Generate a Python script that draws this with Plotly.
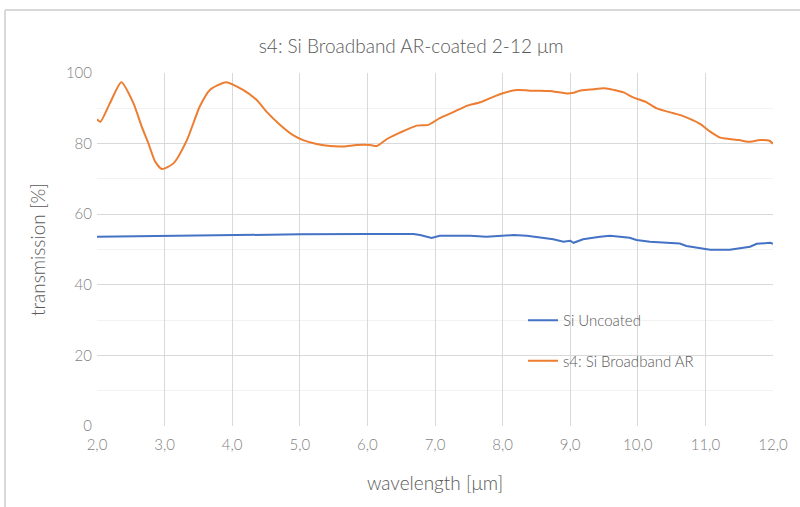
import plotly.graph_objects as go

# Data
wl_ar = [2.0, 2.05, 2.19, 2.36, 2.54, 2.66, 2.76, 2.86, 2.96, 3.13, 3.33, 3.52, 3.67, 3.91, 4.16,
         4.36, 4.51, 4.71, 4.90, 5.05, 5.25, 5.45, 5.65, 5.84, 6.04, 6.14, 6.29, 6.48, 6.73, 6.9,
         7.07, 7.27, 7.47, 7.67, 7.96, 8.21, 8.4, 8.55, 8.7, 8.95, 9.05, 9.14, 9.3, 9.51, 9.65,
         9.79, 9.93, 10.13, 10.28, 10.53, 10.67, 10.92, 11.07, 11.22, 11.36, 11.5, 11.63, 11.81,
         11.95, 12.0]
tr_ar = [86.9, 86.2, 91.4, 97.4, 91.4, 84.9, 80.1, 74.9, 72.8, 74.4, 81.0, 90.5, 95.2, 97.4, 95.2,
         92.4, 89.0, 85.3, 82.4, 81.0, 79.9, 79.3, 79.2, 79.6, 79.6, 79.3, 81.3, 83.1, 85.1, 85.3,
         87.2, 88.9, 90.7, 91.7, 94.0, 95.2, 95.0, 95.0, 94.9, 94.2, 94.4, 95.0, 95.3, 95.7, 95.2,
         94.5, 93.1, 91.7, 90.0, 88.6, 87.8, 85.6, 83.4, 81.7, 81.3, 81.0, 80.5, 81.0,
         80.8, 79.9]

wl_si = [2.0, 3.0, 4.0, 5.0, 6.0, 6.68, 6.78, 6.95, 7.07, 7.52, 7.76, 8.16, 8.36, 8.75, 8.9,
         9.0, 9.05, 9.19, 9.44, 9.59, 9.88, 9.98, 10.18, 10.62, 10.72, 11.07, 11.36, 11.66,
         11.76, 11.96, 12.0]
tr_si = [53.6, 53.9, 54.1, 54.3, 54.4, 54.4, 54.1, 53.3, 53.9, 53.9, 53.6, 54.1, 53.9, 52.9, 52.2,
         52.5, 51.9, 52.9, 53.6, 53.9, 53.3, 52.7, 52.2, 51.7, 51.0, 49.9, 49.9, 50.8,
         51.6, 51.9, 51.6]

x_ticks = [2, 3, 4, 5, 6, 7, 8, 9, 10, 11, 12]
x_ticktext = ["2,0", "3,0", "4,0", "5,0", "6,0", "7,0", "8,0", "9,0", "10,0", "11,0", "12,0"]
y_ticks = [0, 20, 40, 60, 80, 100]

FONT = "Lato Light, Lato, sans-serif"

fig = go.Figure()
fig.add_trace(go.Scatter(x=wl_si, y=tr_si, mode="lines", name="Si Uncoated",
                         line=dict(color="#4472C4", width=2), legendgroup="a"))
fig.add_trace(go.Scatter(x=wl_ar, y=tr_ar, mode="lines", name="s4: Si Broadband AR",
                         line=dict(color="#ED7D31", width=2, shape="spline", smoothing=0.6),
                         legendgroup="b"))

fig.update_layout(
    width=800, height=507,
    margin=dict(l=97, r=27, t=73, b=81),
    paper_bgcolor="white", plot_bgcolor="white",
    font=dict(family=FONT, color="#595959"),
    title=dict(text="s4: Si Broadband AR-coated 2-12 μm", x=0.514, xanchor="center",
               y=1 - 46 / 507, yanchor="middle", font=dict(size=19, color="#595959", family=FONT)),
    showlegend=True,
    legend=dict(x=(523 - 97) / 676, y=(426 - 304) / 353, xanchor="left", yanchor="top",
                bgcolor="rgba(0,0,0,0)", font=dict(size=15, color="#595959", family=FONT),
                tracegroupgap=18, itemwidth=30),
    xaxis=dict(range=[2, 12], tickvals=x_ticks, ticktext=x_ticktext,
               showgrid=True, gridcolor="#d9d9d9", gridwidth=1, zeroline=False,
               showline=False, ticks="", ticklabelstandoff=8,
               tickfont=dict(size=15, color="#7f7f7f", family=FONT),
               title=dict(text="wavelength [μm]", font=dict(size=19, color="#595959", family=FONT),
                          standoff=24)),
    yaxis=dict(range=[0, 100], tickvals=y_ticks, showgrid=True, gridcolor="#d9d9d9",
               gridwidth=1, zeroline=False, showline=False, ticks="", ticklabelstandoff=4,
               minor=dict(dtick=10, showgrid=True, gridcolor="#f2f2f2", gridwidth=1),
               tickfont=dict(size=15, color="#7f7f7f", family=FONT),
               title=dict(text="transmission [%]", font=dict(size=19, color="#595959", family=FONT),
                          standoff=15)),
)

# chart frame (light gray border at left and top)
fig.add_shape(type="line", xref="paper", yref="paper",
              x0=(5 - 97) / 676, x1=(805 - 97) / 676, y0=(426 - 10) / 353, y1=(426 - 10) / 353,
              line=dict(color="#d9d9d9", width=2))
fig.add_shape(type="line", xref="paper", yref="paper",
              x0=(5 - 97) / 676, x1=(5 - 97) / 676, y0=(426 - 10) / 353, y1=(426 - 520) / 353,
              line=dict(color="#d9d9d9", width=2))

fig.write_html("out.html", config={"displayModeBar": False},
               post_script="document.body.style.margin='0';document.body.style.overflow='hidden';")
